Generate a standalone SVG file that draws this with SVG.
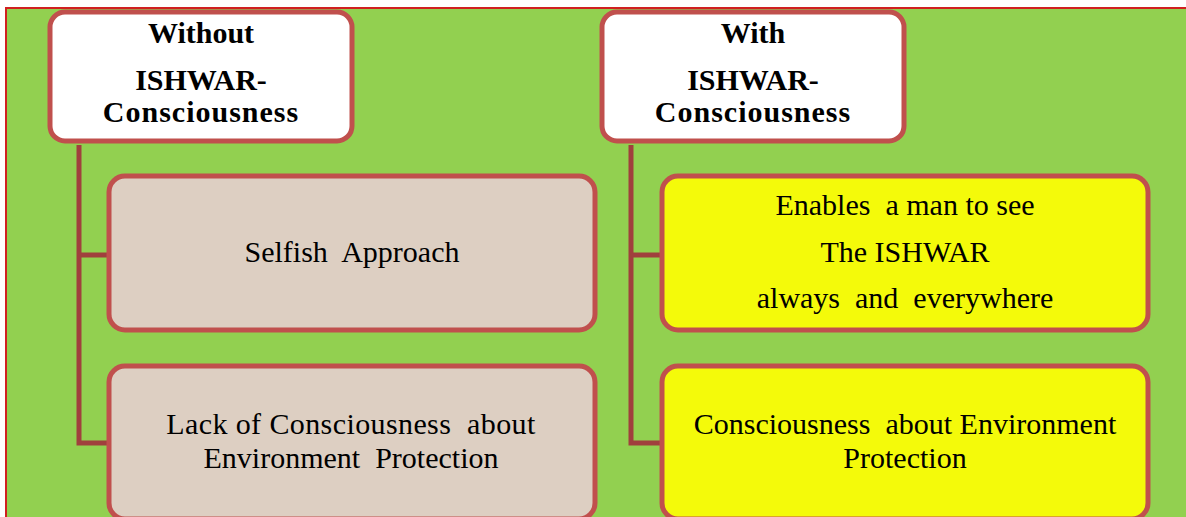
<svg xmlns="http://www.w3.org/2000/svg" width="1186" height="517" viewBox="0 0 1186 517">
<style>
.box{stroke:#C0504D;stroke-width:5}
.hdr{fill:#FFFFFF}
.tan{fill:#DDCFC2}
.yel{fill:#F4FA0A}
.conn{fill:none;stroke:#A0403D;stroke-width:5;stroke-linejoin:miter}
.ht{font-family:'Liberation Serif',serif;font-weight:bold;font-size:30px;fill:#000;text-anchor:middle}
.bt{font-family:'Liberation Serif',serif;font-size:30px;fill:#000;text-anchor:middle;white-space:pre}
</style>
<rect x="0" y="0" width="1186" height="517" fill="#FFFFFF"/>
<rect x="6" y="8" width="1190" height="520" fill="#92D050" stroke="#D02020" stroke-width="2"/>
<g id="connectors">
<path class="conn" d="M79 145 V443 H110 M79 255 H110"/>
<path class="conn" d="M631 145 V443 H663 M631 255 H663"/>
</g>
<g id="hdr-without">
<rect class="box hdr" x="50" y="12" width="302" height="129" rx="15"/>
<text class="ht" x="201" y="43">Without</text>
<text class="ht" x="201" y="90">ISHWAR-</text>
<text class="ht" x="201" y="122" letter-spacing="1">Consciousness</text>
</g>
<g id="hdr-with">
<rect class="box hdr" x="602" y="12" width="302" height="129" rx="15"/>
<text class="ht" x="753" y="43">With</text>
<text class="ht" x="753" y="90">ISHWAR-</text>
<text class="ht" x="753" y="122" letter-spacing="1">Consciousness</text>
</g>
<g id="selfish">
<rect class="box tan" x="109" y="176" width="486" height="154" rx="16"/>
<text class="bt" x="352" y="262">Selfish  Approach</text>
</g>
<g id="lack">
<rect class="box tan" x="109" y="366" width="486" height="153" rx="16"/>
<text class="bt" x="351" y="434" letter-spacing="0.4">Lack of Consciousness  about</text>
<text class="bt" x="351" y="468">Environment  Protection</text>
</g>
<g id="enables">
<rect class="box yel" x="662" y="176" width="486" height="154" rx="16"/>
<text class="bt" x="905" y="215">Enables  a man to see</text>
<text class="bt" x="905" y="262">The ISHWAR</text>
<text class="bt" x="905" y="308">always  and  everywhere</text>
</g>
<g id="consciousness">
<rect class="box yel" x="662" y="366" width="486" height="153" rx="16"/>
<text class="bt" x="905" y="434">Consciousness  about Environment</text>
<text class="bt" x="905" y="468">Protection</text>
</g>
</svg>
